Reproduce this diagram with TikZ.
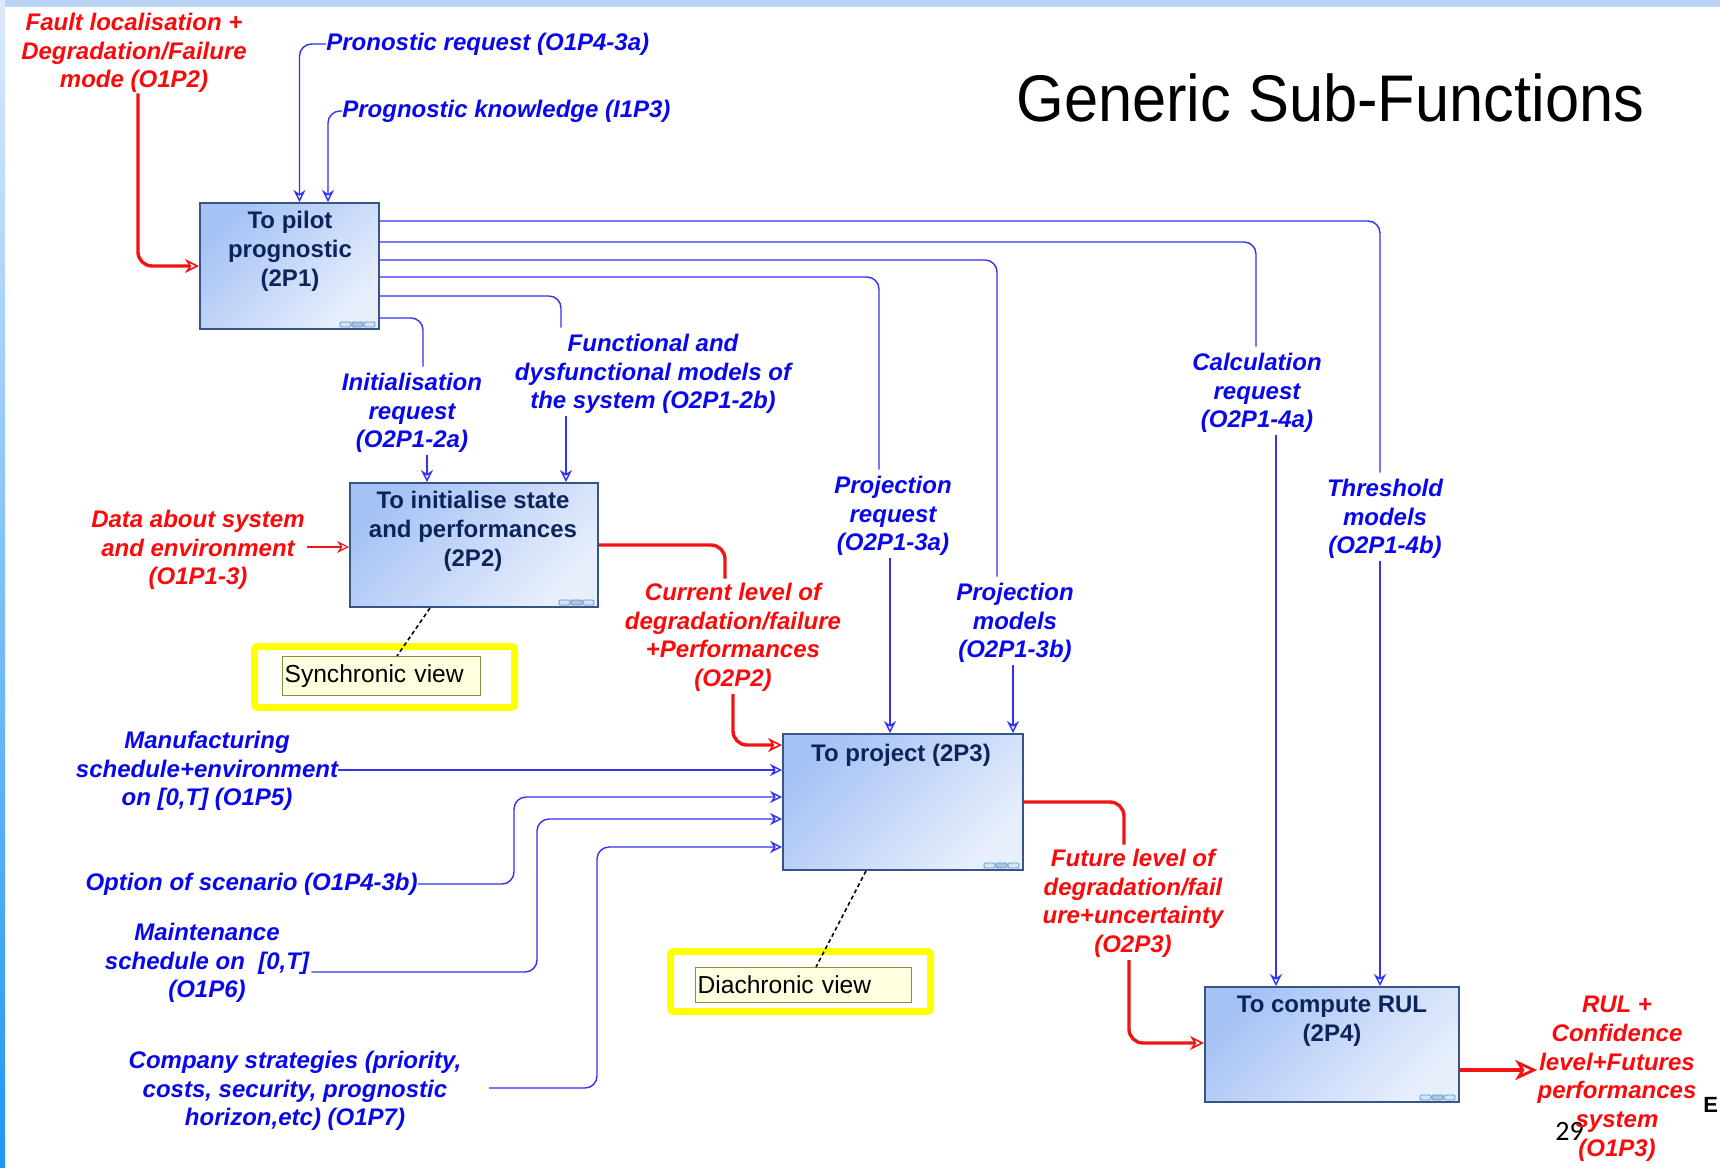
\documentclass[tikz,border=0pt]{standalone}
\usepackage{fontspec}
\usepackage{graphicx}
\setmainfont{Liberation Sans}
\newfontfamily\numfont{Carlito}
\usetikzlibrary{arrows.meta,fit,calc}

\definecolor{lblblue}{RGB}{8,8,235}
\definecolor{lnblue}{RGB}{50,50,240}
\definecolor{lblred}{RGB}{250,10,10}
\definecolor{lnred}{RGB}{240,20,20}
\definecolor{boxtop}{RGB}{166,194,245}
\definecolor{boxbot}{RGB}{232,239,252}
\definecolor{boxedge}{RGB}{55,85,135}
\definecolor{boxtxt}{RGB}{12,36,90}
\definecolor{hilite}{RGB}{255,255,0}
\definecolor{notefill}{RGB}{255,255,224}
\definecolor{noteedge}{RGB}{140,140,70}
\definecolor{icofill}{RGB}{210,228,246}
\definecolor{icoedge}{RGB}{100,150,200}
\definecolor{bandblue}{RGB}{185,211,247}
\definecolor{bartop}{RGB}{220,233,252}
\definecolor{barbot}{RGB}{33,150,243}

\tikzset{
  fbox/.style={draw=boxedge, line width=1pt, inner sep=0pt,
    top color=boxtop, bottom color=boxbot, shading angle=45},
  boxlbl/.style={anchor=north, align=center, inner sep=0pt, text=boxtxt,
    font=\bfseries\fontsize{12}{14.6}\selectfont},
  lbl/.style={inner sep=0pt, align=center,
    font=\bfseries\itshape\fontsize{12}{14.4}\selectfont},
  bluelbl/.style={lbl, text=lblblue},
  redlbl/.style={lbl, text=lblred},
  blueline/.style={draw=lnblue, line width=0.7pt, rounded corners=6pt},
  bluearrow/.style={blueline, -{Stealth[open, length=6pt, width=6pt, inset=2pt]}},
  redthick/.style={draw=lnred, line width=1.7pt, rounded corners=7pt},
  redarrow/.style={redthick, -{Stealth[open, length=7pt, width=7pt, inset=2.2pt, line width=0.8pt]}},
  redthin/.style={draw=lnred, line width=0.6pt, -{Stealth[open, length=6pt, width=6pt, inset=2pt]}},
  redout/.style={redthick, -{Stealth[open, length=11pt, width=10pt, inset=3pt, line width=1.4pt]}},
  dotconn/.style={draw=black, line width=0.8pt, dash pattern=on 2pt off 1.5pt},
  hiframe/.style={draw=hilite, line width=3.5pt, rounded corners=1.5pt, inner sep=0pt},
  notebox/.style={draw=noteedge, fill=notefill, line width=0.6pt, anchor=north west,
    inner xsep=1pt, inner ysep=0pt, align=left, font=\fontsize{12.3}{14}\selectfont},
}

% small three-cell marker in the lower right corner of a function box
\newcommand\drawboxicon[1]{%
  \begin{scope}[shift={(#1.south east)}]
    \filldraw[draw=icoedge, fill=icofill, line width=0.4pt, rounded corners=0.6pt]
      (-40,-8) rectangle (-29,-3) (-16,-8) rectangle (-5,-3);
    \filldraw[draw=icoedge, fill=icoedge!55, line width=0.4pt, rounded corners=0.6pt]
      (-28,-8) rectangle (-17,-3);
    \draw[icoedge, line width=0.4pt] (-29,-5.5) -- (-28,-5.5) (-17,-5.5) -- (-16,-5.5);
  \end{scope}}

\begin{document}
\begin{tikzpicture}[x=0.5pt, y=-0.5pt]
  % page frame
  \useasboundingbox (0,0) rectangle (1720,1168);
  \fill[white] (0,0) rectangle (1720,1168);
  \shade[top color=bartop, bottom color=barbot] (0,0) rectangle (5,1168);
  \fill[bandblue] (5,0) rectangle (1720,6.5);

  % title
  \node[anchor=base west, inner sep=0pt, font=\fontsize{33}{40}\selectfont] (title)
    at (1016,121) {\scalebox{0.93}[1]{Generic Sub-Functions}};

  % function boxes
  \node[fbox, fit={(200,203) (379,329)}] (p1) {};
  \node[fbox, fit={(350,483) (598,607)}] (p2) {};
  \node[fbox, fit={(783,734) (1023,870)}] (p3) {};
  \node[fbox, fit={(1205,987) (1459,1102)}] (p4) {};
  \drawboxicon{p1}
  \drawboxicon{p2}
  \drawboxicon{p3}
  \drawboxicon{p4}
  \node[boxlbl] (p1t) at (290,210.5) {To pilot\\prognostic\\(2P1)};
  \node[boxlbl] (p2t) at (473,490.5) {To initialise state\\and performances\\(2P2)};
  \node[boxlbl] (p3t) at (901,743.5) {To project (2P3)};
  \node[boxlbl] (p4t) at (1332,995.5) {To compute RUL\\(2P4)};

  % view notes
  \node[hiframe, fit={(254.5,646.5) (514.5,707.5)}] (syncf) {};
  \node[hiframe, fit={(670.5,951.5) (930.5,1011.5)}] (diaf) {};
  \node[notebox, minimum height=19.5pt, text width=97pt] (sync) at (282,656) {Synchronic view};
  \node[notebox, minimum height=17.5pt, text width=106pt] (dia) at (695,967) {Diachronic view};
  \draw[dotconn] (p2.south -| 430,0) -- (sync.north -| 397,0);
  \draw[dotconn] (p3.south -| 866,0) -- (dia.north -| 816,0);

  % flow labels
  \node[redlbl, anchor=north] (fault) at (134,12.5) {Fault localisation +\\Degradation/Failure\\mode (O1P2)};
  \node[redlbl, anchor=north] (data) at (198,509.5) {Data about system\\and environment\\(O1P1-3)};
  \node[redlbl, anchor=north] (cur) at (733,582.5) {Current level of\\degradation/failure\\+Performances\\(O2P2)};
  \node[redlbl, anchor=north] (fut) at (1133,848.5) {Future level of\\degradation/fail\\ure+uncertainty\\(O2P3)};
  \node[anchor=base west, inner sep=0pt, font=\numfont\fontsize{14}{16}\selectfont] (pg) at (1555,1140) {29};
  \node[redlbl, anchor=north] (rul) at (1617,995.5) {RUL +\\Confidence\\level+Futures\\performances\\system\\(O1P3)};
  \node[anchor=base west, inner sep=0pt, font=\bfseries\fontsize{11}{13}\selectfont] (edgeE) at (1703,1112) {E};

  \node[bluelbl, anchor=west] (pron) at (326,44) {Pronostic request (O1P4-3a)};
  \node[bluelbl, anchor=west] (know) at (342,111) {Prognostic knowledge (I1P3)};
  \node[bluelbl, anchor=north] (init) at (412,372.5) {Initialisation\\request\\(O2P1-2a)};
  \node[bluelbl, anchor=north] (func) at (653,333.5) {Functional and\\dysfunctional models of\\the system (O2P1-2b)};
  \node[bluelbl, anchor=north] (projreq) at (893,475.5) {Projection\\request\\(O2P1-3a)};
  \node[bluelbl, anchor=north] (projmod) at (1015,582.5) {Projection\\models\\(O2P1-3b)};
  \node[bluelbl, anchor=north] (calc) at (1257,352.5) {Calculation\\request\\(O2P1-4a)};
  \node[bluelbl, anchor=north] (thr) at (1385,478.5) {Threshold\\models\\(O2P1-4b)};
  \node[bluelbl, anchor=north] (manu) at (207,730.5) {Manufacturing\\schedule+environment\\on [0,T] (O1P5)};
  \node[bluelbl, anchor=east] (option) at (418,884) {Option of scenario (O1P4-3b)};
  \node[bluelbl, anchor=north] (maint) at (207,922.5) {Maintenance\\schedule on\ \ [0,T]\\(O1P6)};
  \node[bluelbl, anchor=north] (company) at (295,1050.5) {Company strategies (priority,\\costs, security, prognostic\\horizon,etc) (O1P7)};
  \coordinate (cs) at (489,1088);

  % inputs of 2P1
  \draw[redarrow] ([xshift=2pt]fault.south) |- (p1.west |- 0,266);
  \draw[bluearrow] (pron.west) -| (p1.north -| 299.5,0);
  \draw[bluearrow] (know.west) -| (p1.north -| 328,0);

  % controls issued by 2P1
  \draw[blueline, shorten >=3pt] (p1.east |- 0,221) -| (thr.north -| 1380,0);
  \draw[bluearrow, shorten <=1pt] (thr.south -| 1380,0) -- (p4.north -| 1380,0);
  \draw[blueline, shorten >=3pt] (p1.east |- 0,242) -| (calc.north -| 1256,0);
  \draw[bluearrow, shorten <=1pt] (calc.south -| 1276,0) -- (p4.north -| 1276,0);
  \draw[blueline, shorten >=3pt] (p1.east |- 0,260) -| (projmod.north -| 997,0);
  \draw[bluearrow, shorten <=1pt] (projmod.south -| 1013,0) -- (p3.north -| 1013,0);
  \draw[blueline, shorten >=3pt] (p1.east |- 0,277) -| (projreq.north -| 879,0);
  \draw[bluearrow, shorten <=1pt] (projreq.south -| 890,0) -- (p3.north -| 890,0);
  \draw[blueline, shorten >=3pt] (p1.east |- 0,296) -| (func.north -| 561,0);
  \draw[bluearrow, shorten <=1pt] (func.south -| 566,0) -- (p2.north -| 566,0);
  \draw[blueline, shorten >=3pt] (p1.east |- 0,318) -| (init.north -| 423,0);
  \draw[bluearrow, shorten <=1pt] (init.south -| 427,0) -- (p2.north -| 427,0);

  % 2P2
  \draw[redthin, shorten <=1pt] (data.east |- 0,547) -- (p2.west |- 0,547);
  \draw[redthick, shorten >=2pt] (p2.east |- 0,545) -| (cur.north -| 725,0);
  \draw[redarrow, shorten <=1pt] (cur.south -| 733,0) |- (p3.west |- 0,745);

  % inputs of 2P3
  \draw[bluearrow] (manu.east |- 0,770) -- (p3.west |- 0,770);
  \draw[bluearrow] (option.east) -| (514,840) |- (p3.west |- 0,797);
  \draw[bluearrow, shorten <=1pt] (maint.east |- 0,972) -| (537,900) |- (p3.west |- 0,819);
  \draw[bluearrow] (cs) -| (597,950) |- (p3.west |- 0,847);

  % 2P3 to 2P4 and result
  \draw[redthick, shorten >=2pt] (p3.east |- 0,802) -| (fut.north -| 1124,0);
  \draw[redarrow, shorten <=1pt] (fut.south -| 1129,0) |- (p4.west |- 0,1043);
  \draw[redout] (p4.east |- 0,1070) -- (rul.west |- 0,1070);
\end{tikzpicture}
\end{document}
